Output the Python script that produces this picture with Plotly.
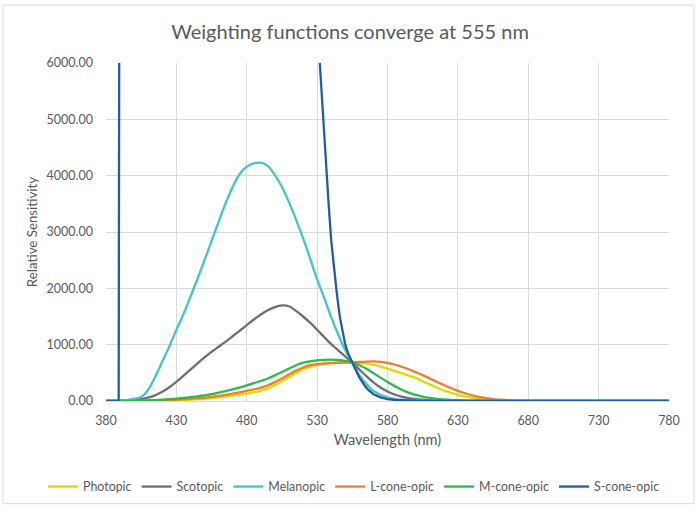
import plotly.graph_objects as go

# Wavelength grid (nm): 380, 385, 389, then every 5 nm from 390 to 780
WAVELENGTH_NM = [380, 385, 389] + list(range(390, 781, 5))

SERIES_NAMES = ["Photopic", "Scotopic", "Melanopic", "L-cone-opic", "M-cone-opic", "S-cone-opic"]

PHOTOPIC = [0, 0, 0,
            0, 0, 1, 1, 2, 3, 5, 8, 12, 17, 24, 32, 40, 52, 65, 80, 96, 113,
            130, 152, 180, 225, 285, 350, 420, 495, 560, 605, 635, 660, 676, 685, 688, 683,
            675, 662, 640, 612, 575, 535, 495, 452, 410, 350, 295, 240, 190, 148, 110, 80,
            58, 40, 27, 18, 12, 8, 5, 3, 2, 1, 1,
            0, 0, 0, 0, 0, 0, 0, 0, 0, 0, 0, 0, 0, 0, 0, 0, 0, 0]

SCOTOPIC = [1, 2, 3,
            4, 8, 16, 31, 59, 103, 164, 244, 339, 446, 557, 668, 773, 872, 963, 1053, 1149, 1247,
            1347, 1446, 1536, 1612, 1668, 1696, 1682, 1600, 1500, 1390, 1265, 1135, 1010, 900, 790, 683,
            560, 440, 330, 240, 170, 115, 78, 52, 35, 23, 15, 10, 6, 4, 3, 2,
            1, 1,
            0, 0, 0, 0, 0, 0, 0, 0, 0, 0, 0, 0, 0, 0, 0, 0, 0, 0, 0, 0, 0, 0, 0, 0, 0, 0, 0]

MELANOPIC = [0, 0, 0,
             5, 15, 40, 70, 200, 430, 700, 970, 1260, 1540, 1850, 2170, 2500, 2840, 3180, 3510, 3800, 4030,
             4160, 4220, 4230, 4170, 4010, 3800, 3530, 3220, 2890, 2530, 2160, 1830, 1490, 1180, 900, 683,
             460, 300, 180, 110, 65, 38, 22, 13, 8, 5, 3, 2, 1, 1,
             0, 0, 0, 0, 0, 0, 0, 0, 0, 0, 0, 0, 0, 0, 0, 0, 0, 0, 0, 0, 0, 0, 0, 0, 0, 0, 0, 0, 0, 0, 0]

L_CONE = [0, 0, 0,
          1, 1, 2, 3, 5, 8, 12, 18, 24, 32, 40, 50, 58, 72, 90, 110, 132, 155,
          178, 205, 236, 280, 335, 400, 470, 540, 595, 635, 656, 666, 672, 676, 680, 683,
          692, 699, 702, 696, 678, 648, 608, 563, 512, 460, 402, 340, 285, 230, 180, 138,
          102, 72, 50, 33, 22, 13, 8, 5, 3, 2, 1, 1,
          0, 0, 0, 0, 0, 0, 0, 0, 0, 0, 0, 0, 0, 0, 0, 0, 0]

M_CONE = [0, 0, 0,
          1, 2, 3, 6, 11, 17, 25, 33, 42, 55, 68, 82, 98, 120, 148, 176, 205, 240,
          278, 318, 355, 400, 455, 515, 575, 635, 680, 705, 720, 730, 735, 728, 712, 683,
          635, 572, 495, 415, 338, 265, 200, 148, 108, 78, 55, 38, 27, 19, 13, 9,
          6, 4, 3, 2, 1, 1,
          0, 0, 0, 0, 0, 0, 0, 0, 0, 0, 0, 0, 0, 0, 0, 0, 0, 0, 0, 0, 0, 0, 0]

# S-cone-opic has its own (finer) wavelength sampling across its steep fall
S_CONE_NM = [380, 385, 389, 390, 395, 400, 405, 410, 415, 420, 425, 430, 435, 440, 445, 450,
             455, 460, 465, 470, 475, 480, 485, 490, 495, 500, 505, 510, 515, 520, 525,
             526, 528, 530, 532, 534, 536, 538, 540, 542, 544, 546, 548, 550, 552, 554, 555,
             556, 558, 560, 562, 564, 566, 568, 570, 575, 580, 585, 590, 595, 600, 605, 610,
             615, 620, 650, 700, 780]
S_CONE = [0, 0, 0, 16000, 22000, 28000, 35000, 42000, 50000, 58000, 66000, 72000, 76000, 78500, 79000, 77500,
          75000, 71000, 67000, 62000, 57000, 52000, 47000, 42000, 38000, 34000, 30000, 25000, 20000, 15000, 11000,
          9600, 8200, 7000, 5960, 5090, 4300, 3560, 2850, 2350, 1910, 1510, 1220, 1000, 850, 730, 683,
          630, 520, 420, 335, 265, 205, 155, 120, 65, 35, 20, 12, 7, 4, 2, 1,
          1, 0, 0, 0, 0]

X_TICKS = [380, 430, 480, 530, 580, 630, 680, 730, 780]
Y_TICKS = [0, 1000, 2000, 3000, 4000, 5000, 6000]

COLORS = ["#DCD800", "#6E6E6E", "#45C2CA", "#ED7D31", "#2DB84C", "#245E9A"]

SERIES = [PHOTOPIC, SCOTOPIC, MELANOPIC, L_CONE, M_CONE]
for s in SERIES:
    assert len(s) == len(WAVELENGTH_NM), (len(s), len(WAVELENGTH_NM))
assert len(S_CONE) == len(S_CONE_NM), (len(S_CONE), len(S_CONE_NM))

fig = go.Figure()
for name, vals, col in zip(SERIES_NAMES[:5], SERIES, COLORS[:5]):
    fig.add_trace(go.Scatter(
        x=WAVELENGTH_NM, y=vals, name=name, mode="lines",
        line=dict(color=col, width=2.3, shape="spline"),
    ))
fig.add_trace(go.Scatter(
    x=S_CONE_NM, y=S_CONE, name=SERIES_NAMES[5], mode="lines",
    line=dict(color=COLORS[5], width=2.3, shape="linear"),
))

W, H = 700, 513
L, R, T, B = 106, 31, 63, 111
pw, ph = W - L - R, H - T - B

fig.update_layout(
    width=W, height=H,
    margin=dict(l=L, r=R, t=T, b=B),
    paper_bgcolor="white", plot_bgcolor="white",
    font=dict(family="Lato, 'Open Sans', sans-serif", size=12.5, color="#595959"),
    title=dict(text="Weighting functions converge at 555 nm", x=0.5, xanchor="center",
               y=1 - 32 / H, yanchor="middle", font=dict(size=20, color="#595959")),
    xaxis=dict(range=[380, 780], tickmode="array", tickvals=X_TICKS,
               ticktext=[str(v) for v in X_TICKS],
               showgrid=True, gridcolor="#D9D9D9", gridwidth=1, zeroline=False,
               showline=True, linecolor="#D9D9D9", linewidth=1, ticks="",
               ticklabelstandoff=8,
               title=dict(text="Wavelength (nm)", font=dict(size=14.5, color="#595959"), standoff=7)),
    yaxis=dict(range=[0, 6000], tickmode="array", tickvals=Y_TICKS,
               ticktext=[f"{v:.2f}" for v in Y_TICKS],
               showgrid=True, gridcolor="#D9D9D9", gridwidth=1, zeroline=False,
               showline=False, ticks="", ticklabelstandoff=12,
               title=dict(text="Relative Sensitivity", font=dict(size=13.3, color="#595959"), standoff=5)),
    legend=dict(orientation="h", x=(43 - L) / pw, xanchor="left",
                y=(402 - 487) / ph, yanchor="middle",
                font=dict(size=12.4, color="#595959"),
                bgcolor="rgba(0,0,0,0)", itemwidth=30),
    shapes=[dict(type="rect", xref="paper", yref="paper",
                 x0=(3 - L) / pw, x1=(694 - L) / pw,
                 y0=(402 - 505) / ph, y1=(402 - 5) / ph,
                 line=dict(color="#D9D9D9", width=1), fillcolor="rgba(0,0,0,0)", layer="below")],
)

fig.write_html("out.html", config={"displayModeBar": False},
               post_script="document.body.style.margin='0px';")
